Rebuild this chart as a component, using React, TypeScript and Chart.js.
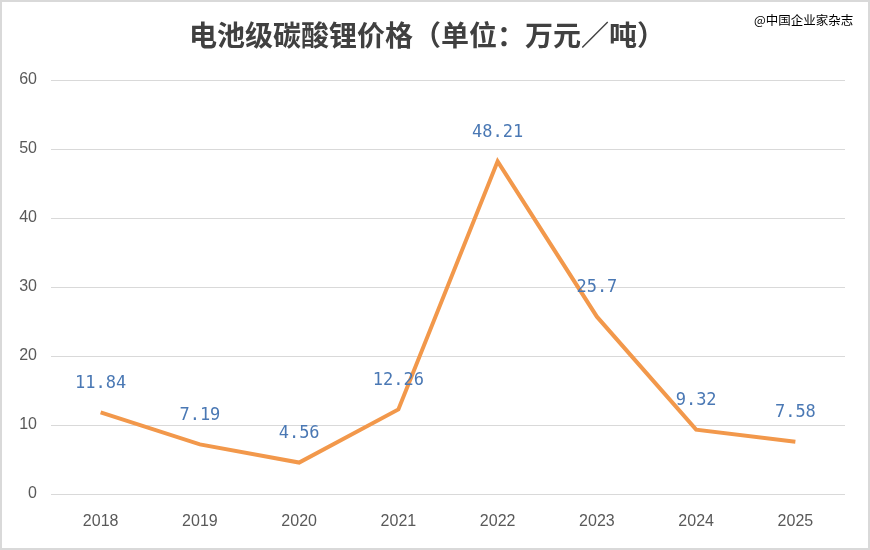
import React, { useEffect, useRef } from "react";
import { Chart, registerables } from "chart.js";

Chart.register(...registerables);

const years = ["2018", "2019", "2020", "2021", "2022", "2023", "2024", "2025"];
const prices = [11.84, 7.19, 4.56, 12.26, 48.21, 25.7, 9.32, 7.58];
const priceLabels = ["11.84", "7.19", "4.56", "12.26", "48.21", "25.7", "9.32", "7.58"];
const titleText = "电池级碳酸锂价格（单位：万元／吨）";
const sourceText = "@中国企业家杂志";

const W = 866;
const H = 546;

export default function App() {
  const ref = useRef<HTMLCanvasElement | null>(null);

  useEffect(() => {
    document.body.style.margin = "0";
    const canvas = ref.current;
    if (!canvas) return;

    const overlay = {
      id: "overlay",
      afterDatasetsDraw(chart: any) {
        const ctx = chart.ctx;
        const meta = chart.getDatasetMeta(0);
        ctx.save();
        ctx.fillStyle = "#4A78B4";
        ctx.font = "17px 'DejaVu Sans Mono', monospace";
        ctx.textAlign = "center";
        ctx.textBaseline = "middle";
        meta.data.forEach((pt: any, i: number) => {
          ctx.fillText(priceLabels[i], pt.x, pt.y - 29);
        });
        ctx.restore();
      },
      afterDraw(chart: any) {
        const ctx = chart.ctx;
        ctx.save();
        ctx.fillStyle = "#404040";
        ctx.font = "bold 28px 'Noto Sans CJK SC', sans-serif";
        ctx.textAlign = "center";
        ctx.textBaseline = "middle";
        ctx.fillText(titleText, 425, 33);
        ctx.fillStyle = "#000000";
        ctx.font = "12.5px 'Noto Sans CJK SC', sans-serif";
        ctx.textAlign = "left";
        ctx.fillText(sourceText, 752, 18);
        ctx.restore();
      },
    };

    const chart = new Chart(canvas, {
      type: "line",
      data: {
        labels: years,
        datasets: [
          {
            data: prices,
            borderColor: "#F2984B",
            borderWidth: 4,
            pointRadius: 0,
            tension: 0,
            fill: false,
          },
        ],
      },
      options: {
        responsive: false,
        animation: false,
        layout: { padding: { top: 78, right: 23, bottom: 0, left: 0 } },
        plugins: {
          legend: { display: false },
          title: { display: false },
          tooltip: { enabled: false },
        },
        scales: {
          x: {
            offset: true,
            grid: { display: false, drawTicks: false },
            border: { display: false },
            ticks: {
              color: "#595959",
              font: { size: 16, family: "'Liberation Sans', Arial, sans-serif" },
              padding: 18,
            },
            afterFit(scale: any) {
              scale.height = 54;
            },
          },
          y: {
            min: 0,
            max: 60,
            grid: { color: "#D9D9D9", lineWidth: 1, drawTicks: false },
            border: { display: false },
            ticks: {
              stepSize: 10,
              color: "#595959",
              font: { size: 16, family: "'Liberation Sans', Arial, sans-serif" },
              padding: 14,
            },
            afterFit(scale: any) {
              scale.width = 49;
            },
          },
        },
      },
      plugins: [overlay],
    });

    return () => chart.destroy();
  }, []);

  return (
    <div
      style={{
        width: 870,
        height: 550,
        boxSizing: "border-box",
        border: "2px solid #D9D9D9",
        background: "#FFFFFF",
      }}
    >
      <canvas ref={ref} width={W} height={H} style={{ display: "block", width: W, height: H }} />
    </div>
  );
}
